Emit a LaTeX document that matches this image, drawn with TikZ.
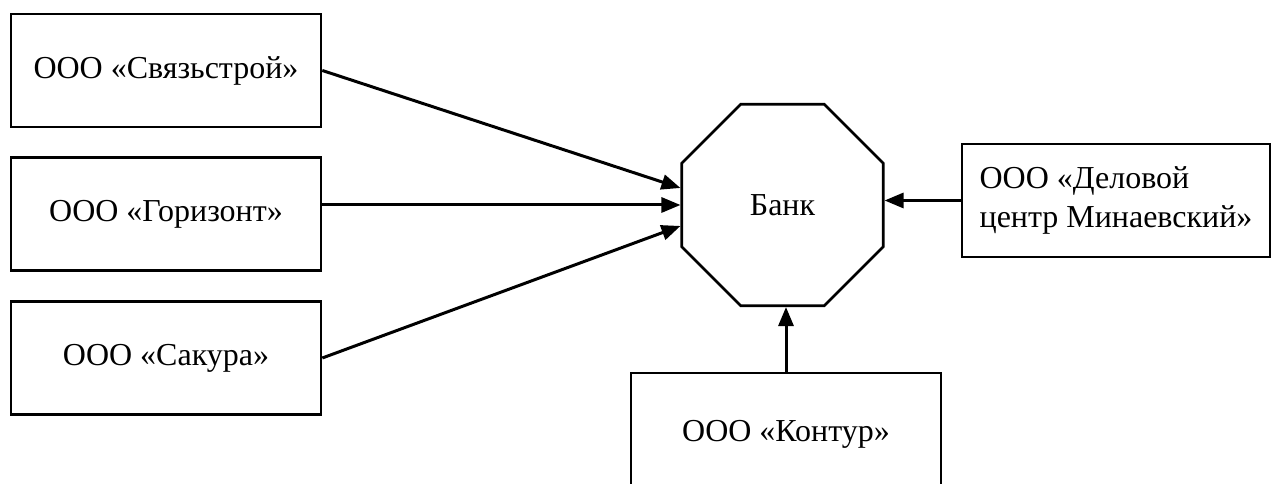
\documentclass[tikz,border=0pt]{standalone}
\usepackage{fontspec}
\setmainfont{Liberation Serif}
\usetikzlibrary{shapes.geometric,arrows.meta,calc}
\begin{document}
\begin{tikzpicture}[>={Triangle[length=0.38cm,width=0.3cm]},
 firm/.style={draw,line width=1.5pt,minimum width=6.2cm,minimum height=2.26cm,
  font=\fontsize{18.2}{21.8}\selectfont},
 bank/.style={draw,line width=1.5pt,regular polygon,regular polygon sides=8,
  minimum size=4.36cm,inner sep=0pt,font=\fontsize{18.2}{21.8}\selectfont},
 link/.style={->,line width=1.7pt}]
	\useasboundingbox (0,0) rectangle (25.42,9.68);

	\node[bank] (bank) at (15.65,5.58) {Банк};
	\node[firm] (svyaz) at (3.32,8.27) {ООО «Связьстрой»};
	\node[firm] (gorizont) at (3.32,5.40) {ООО «Горизонт»};
	\node[firm] (sakura) at (3.32,2.52) {ООО «Сакура»};
	\node[firm,minimum width=6.16cm,align=left] (delo) at (22.32,5.67)
		{ООО «Деловой\\центр Минаевский»};
	\node[firm,minimum height=2.44cm] (kontur) at (15.72,1.0) {ООО «Контур»};

	\draw[link] (svyaz.east) -- ($(bank.west)+(0,0.34)$);
	\draw[link] (gorizont.east |- bank.west) -- (bank.west);
	\draw[link] (sakura.east) -- ($(bank.west)+(0,-0.42)$);
	\draw[link] (delo.west) -- (delo.west -| bank.east);
	\draw[link] (kontur.north) -- (kontur.north |- bank.south);
\end{tikzpicture}
\end{document}
